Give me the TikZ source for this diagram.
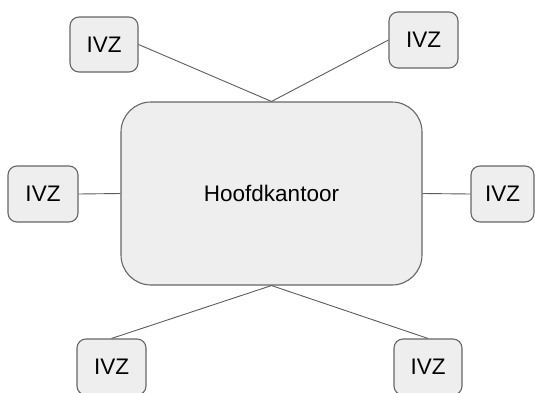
\documentclass[tikz,border=0pt]{standalone}
\usepackage{fontspec}
\setmainfont{Liberation Sans}
\usetikzlibrary{positioning}
\definecolor{boxfill}{HTML}{EEEEEE}
\definecolor{boxline}{HTML}{666666}
\begin{document}
\begin{tikzpicture}[x=1pt,y=1pt,every node/.style={font=\fontsize{22.5}{27}\selectfont},
  office/.style={draw=boxline,fill=boxfill,line width=1.1pt,rounded corners=9pt,inner sep=0pt,minimum width=68pt,minimum height=56pt},
  link/.style={draw=boxline!90!black,line width=0.9pt}]
\useasboundingbox (0,0) rectangle (535,392);
\node[office,rounded corners=30pt,minimum width=301pt,minimum height=183pt] (hq) at (271.5,198.5) {Hoofdkantoor};
\node[office,minimum height=55pt] (ivzTL) at (104,347.5) {IVZ};
\node[office,minimum width=69pt] (ivzTR) at (423.5,352) {IVZ};
\node[office,minimum width=70pt] (ivzL) at (43,198) {IVZ};
\node[office,minimum width=63pt] (ivzR) at (502.5,198) {IVZ};
\node[office,minimum width=69pt] (ivzBL) at (111.5,25) {IVZ};
\node[office] (ivzBR) at (428,25) {IVZ};
\path[link] (ivzTL.east) -- (hq.north);
\path[link] (ivzTR.west) -- (hq.north);
\path[link] (ivzL.east) -- (hq.west);
\path[link] (ivzR.west) -- (hq.east);
\path[link] (ivzBL.north) -- (hq.south);
\path[link] (ivzBR.north) -- (hq.south);
\end{tikzpicture}
\end{document}
